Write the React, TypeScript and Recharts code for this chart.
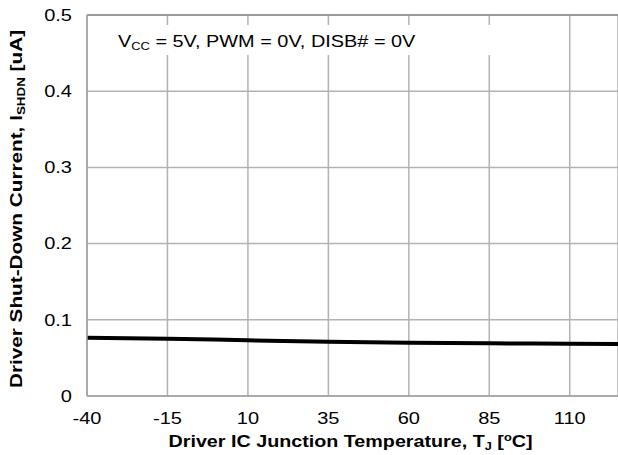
import React from 'react';
import { LineChart, Line, XAxis, YAxis, CartesianGrid, Customized, ReferenceLine } from 'recharts';

// junction temperature (°C) and shut-down current (uA)
const temps = [-40, -15, 10, 35, 60, 85, 110, 125];
const current = [0.0765, 0.0752, 0.0731, 0.0713, 0.07, 0.0692, 0.0686, 0.0682];
const xTicks = [-40, -15, 10, 35, 60, 85, 110];
const yTicks = [0, 0.1, 0.2, 0.3, 0.4, 0.5];

const data = temps.map((t, i) => ({ t, i: current[i] }));

const FONT = '"Liberation Sans", Arial, sans-serif';

const XTick = (props: any) => {
  const { x, payload } = props;
  return (
    <text
      transform={`translate(${x},423.5) scale(1.25,1)`}
      textAnchor="middle"
      fontSize={16}
      fontFamily={FONT}
      fill="#000"
    >
      {payload.value}
    </text>
  );
};

const YTick = (props: any) => {
  const { y, payload } = props;
  return (
    <text
      transform={`translate(72,${y}) scale(1.25,1)`}
      textAnchor="end"
      dy="0.36em"
      fontSize={16}
      fontFamily={FONT}
      fill="#000"
    >
      {String(payload.value)}
    </text>
  );
};

const Annotation = () => (
  <g fontFamily={FONT} fill="#000">
    <rect x={100} y={25} width={420} height={30} fill="#fff" />
    <text transform="translate(118,46.7) scale(1.17,1)" fontSize={17}>
      V<tspan fontSize={11} dy={3}>CC</tspan>
      <tspan dy={-3}> = 5V, PWM = 0V, DISB# = 0V</tspan>
    </text>
  </g>
);

const AxisTitles = () => (
  <g fontFamily={FONT} fontWeight="bold" fill="#000">
    <text transform="translate(21.5,209) rotate(-90) scale(1.22,1)" textAnchor="middle" fontSize={17}>
      Driver Shut-Down Current, I<tspan fontSize={11} dy={3}>SHDN</tspan>
      <tspan dy={-3}> [uA]</tspan>
    </text>
    <text transform="translate(350.5,447) scale(1.16,1)" textAnchor="middle" fontSize={17}>
      Driver IC Junction Temperature, T<tspan fontSize={11} dy={3}>J</tspan>
      <tspan dy={-3}> [</tspan>
      <tspan fontSize={11} dy={-6}>o</tspan>
      <tspan dy={6}>C]</tspan>
    </text>
  </g>
);

export default function App() {
  return (
    <div style={{ position: 'absolute', left: 0, top: 0, background: '#fff' }}>
      <LineChart width={618} height={455} data={data} margin={{ top: 15, right: 0, bottom: 0, left: 0 }}>
        <CartesianGrid stroke="#b2b2b2" strokeWidth={1.5} />
        <XAxis
          type="number"
          dataKey="t"
          domain={[-40, 125]}
          ticks={xTicks}
          height={59}
          tickLine={false}
          axisLine={{ stroke: '#a0a0a0', strokeWidth: 1.5 }}
          tick={<XTick />}
          allowDataOverflow
        />
        <YAxis
          type="number"
          domain={[0, 0.5]}
          ticks={yTicks}
          width={87}
          tickLine={false}
          axisLine={{ stroke: '#a0a0a0', strokeWidth: 1.5 }}
          tick={<YTick />}
        />
        <ReferenceLine y={0.5} stroke="#8c8c8c" strokeWidth={1.5} />
        <Customized component={Annotation} />
        <Line
          type="monotone"
          dataKey="i"
          stroke="#000"
          strokeWidth={4}
          dot={false}
          isAnimationActive={false}
        />
        <Customized component={AxisTitles} />
      </LineChart>
    </div>
  );
}
